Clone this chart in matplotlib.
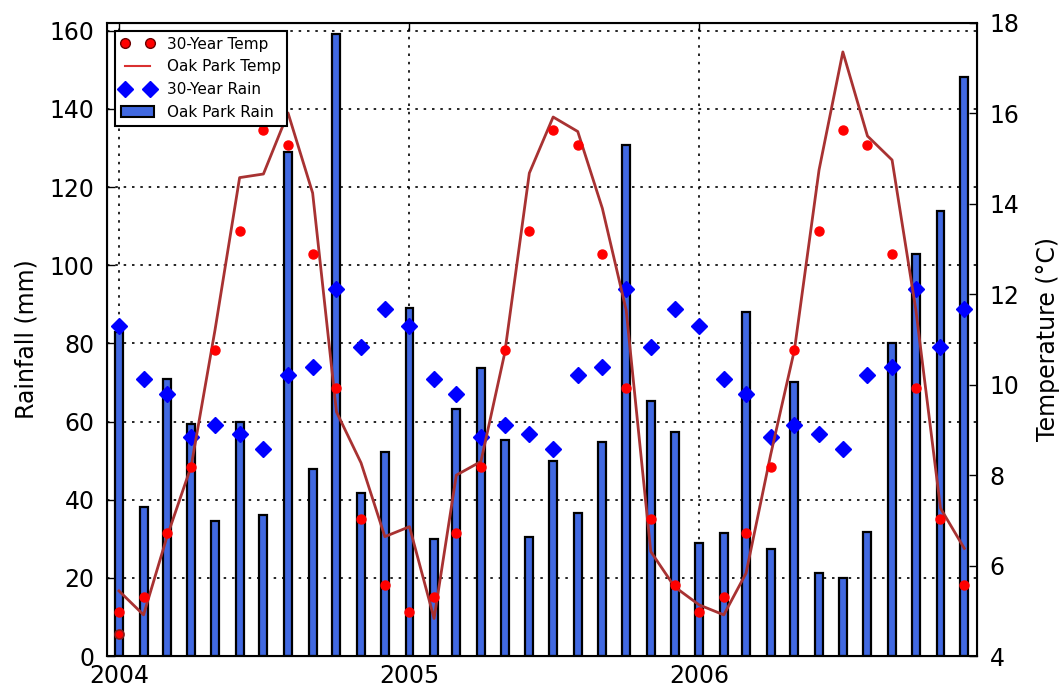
import matplotlib
matplotlib.use("Agg")
import matplotlib.pyplot as plt
import matplotlib.dates as mdates
import numpy as np
import pandas as pd
from matplotlib.lines import Line2D
from matplotlib.patches import Patch

# monthly series, Jan 2004 .. Dec 2006
months = pd.date_range("2004-01-01", periods=36, freq="MS")

oak_park_rain = [83, 38.1, 71, 59.4, 34.5, 59.9, 36, 129, 47.9, 159.2, 41.8, 52.1,
                 89, 30, 63.1, 73.8, 55.3, 30.4, 50, 36.5, 54.7, 130.7, 65.2, 57.2,
                 28.9, 31.4, 88, 27.4, 70, 21.3, 19.9, 31.7, 80.2, 102.9, 114, 148.2]

oak_park_temp = [5.44, 4.91, 6.61, 8.2, 11.21, 14.58, 14.66, 16.01, 14.24, 9.4, 8.27, 6.64,
                 6.86, 4.83, 8.0, 8.3, 10.7, 14.68, 15.92, 15.6, 13.9, 11.65, 6.31, 5.53,
                 5.13, 4.91, 5.83, 8.45, 10.77, 14.75, 17.36, 15.5, 14.97, 11.65, 7.27, 6.38]

# 30-year monthly normals, Jan..Dec
normal_rain = [84.4, 70.8, 67.1, 56.0, 59.2, 56.8, 52.9, 71.9, 73.9, 94.0, 79.0, 88.9]
normal_temp = [4.97, 5.31, 6.73, 8.18, 10.77, 13.41, 15.64, 15.31, 12.89, 9.92, 7.04, 5.58]

# extra reading for Jan 2004
jan04_point = 4.48

rain30 = np.tile(normal_rain, 3)
temp30 = np.tile(normal_temp, 3)

plt.rcParams["xtick.direction"] = "in"
plt.rcParams["ytick.direction"] = "in"

fig = plt.figure(figsize=(10.6, 6.88), dpi=100)
ax1 = fig.add_axes([0.101, 0.0465, 0.8207, 0.9201])

ax1.bar(months, oak_park_rain, width=10, color="royalblue", edgecolor="black",
        linewidth=1.6, zorder=2)
ax1.plot(months, rain30, "D", color="blue", markersize=8, markeredgecolor="blue",
         zorder=3)
ax1.set_ylim(0, 162)
ax1.set_yticks(np.arange(0, 161, 20))
ax1.set_ylabel("Rainfall (mm)", fontsize=17, labelpad=8)
ax1.tick_params(axis="both", labelsize=17, length=6, width=1, top=True)
ax1.tick_params(axis="y", right=False, pad=9)
ax1.xaxis.set_major_locator(mdates.YearLocator())
ax1.xaxis.set_major_formatter(mdates.DateFormatter("%Y"))
ax1.tick_params(axis="x", pad=6)
ax1.set_xlim(pd.Timestamp("2003-12-17"), pd.Timestamp("2006-12-17"))
ax1.grid(True, color="black", linestyle=(0, (1.5, 3.5)), linewidth=1.2)
ax1.set_axisbelow(True)
for sp in ax1.spines.values():
    sp.set_linewidth(1.5)

ax2 = ax1.twinx()
ax2.plot(months, oak_park_temp, "-", color="#a83232", linewidth=2, zorder=3)
ax2.plot(months, temp30, "o", color="red", markersize=6.5, markeredgecolor="red",
         zorder=4)
ax2.plot(months[:1], [jan04_point], "o", color="red", markersize=6.5,
         markeredgecolor="#8b1a1a", markeredgewidth=1.2, zorder=4)
ax2.set_ylim(4, 18)
ax2.set_yticks(np.arange(4, 19, 2))
ax2.set_ylabel("Temperature (\u00b0C)", fontsize=17, labelpad=12)
ax2.tick_params(axis="y", labelsize=17, length=6, width=1, pad=9)

handles = [
    Line2D([], [], linestyle="none", marker="o", color="red", markeredgecolor="#6b0000",
           markersize=7),
    Line2D([], [], color="#d93030", linewidth=1.5),
    Line2D([], [], linestyle="none", marker="D", color="blue", markersize=8),
    Patch(facecolor="royalblue", edgecolor="black", linewidth=1.5),
]
labels = ["30-Year Temp", "Oak Park Temp", "30-Year Rain", "Oak Park Rain"]
leg = ax2.legend(handles, labels, loc="upper left", numpoints=2, fontsize=11,
                 fancybox=False, framealpha=1, borderaxespad=0.5,
                 handlelength=2.2, handletextpad=0.8)
leg.get_frame().set_edgecolor("black")
leg.get_frame().set_linewidth(1.5)

fig.savefig("out.png", dpi=100)
